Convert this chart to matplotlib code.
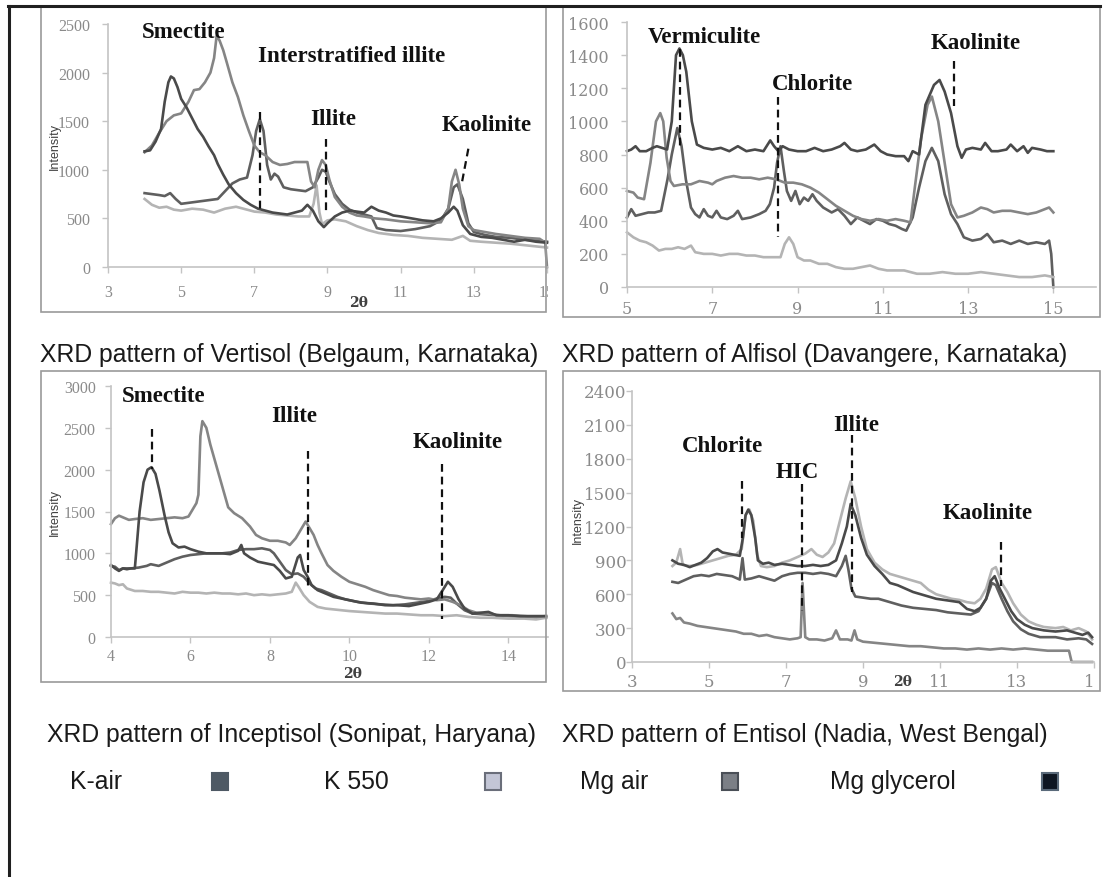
import matplotlib
matplotlib.use("Agg")
import matplotlib.pyplot as plt
from matplotlib.patches import Rectangle
from matplotlib.lines import Line2D
from matplotlib.transforms import Bbox, TransformedBbox

# ---------------- data ----------------
series_names = ["K-air", "K 550", "Mg air", "Mg glycerol"]
series_colors = ["#5f5f5f", "#b4b4b4", "#858585", "#4a4a4a"]

# Panel 1: Vertisol (Belgaum, Karnataka)
ver_kair_x = [4.0,4.2,4.4,4.55,4.7,4.85,5.0,5.2,5.4,5.6,5.8,6.0,6.2,6.4,6.6,6.8,6.95,7.05,7.15,7.25,7.35,7.45,7.55,7.65,7.8,8.0,8.2,8.4,8.6,8.75,8.85,8.95,9.05,9.2,9.4,9.6,9.8,10.0,10.2,10.35,10.6,11.0,11.4,11.8,12.1,12.3,12.45,12.55,12.7,12.85,13.0,13.3,13.6,14.0,14.4,14.8,15.0]
ver_kair_y = [760,750,740,730,760,700,650,660,670,680,690,700,780,860,900,920,1150,1400,1520,1400,1050,900,960,930,820,800,790,780,820,920,1000,980,880,750,650,590,560,540,520,400,380,370,390,420,480,600,820,850,700,450,360,330,310,300,280,270,260]
ver_k550_x = [4.0,4.2,4.4,4.6,4.8,5.0,5.3,5.6,5.9,6.2,6.5,6.7,7.0,7.3,7.6,7.9,8.2,8.5,8.62,8.7,8.78,8.85,9.0,9.2,9.5,9.8,10.1,10.4,10.8,11.2,11.6,12.0,12.4,12.7,12.9,13.2,13.6,14.0,14.5,15.0]
ver_k550_y = [700,640,610,620,590,580,600,590,560,600,620,600,570,560,540,530,520,520,650,840,560,440,480,490,470,420,380,350,330,320,300,290,280,320,270,260,250,240,220,200]
ver_mgair_x = [4.0,4.2,4.4,4.6,4.8,5.0,5.2,5.35,5.5,5.65,5.8,5.9,5.97,6.05,6.15,6.25,6.4,6.55,6.7,6.85,7.0,7.15,7.3,7.5,7.7,7.9,8.1,8.3,8.45,8.55,8.65,8.75,8.85,8.95,9.05,9.2,9.4,9.6,9.8,10.0,10.3,10.6,11.0,11.4,11.8,12.1,12.3,12.4,12.5,12.6,12.7,12.85,13.0,13.3,13.6,14.0,14.4,14.8,14.95,15.0]
ver_mgair_y = [1180,1250,1380,1500,1560,1580,1700,1820,1830,1900,2000,2150,2380,2330,2230,2100,1900,1750,1560,1400,1250,1180,1150,1080,1050,1060,1080,1080,1080,880,820,1000,1100,1050,900,720,620,560,530,520,500,490,470,460,450,460,600,880,1000,850,600,420,380,360,340,320,300,290,250,0]
ver_mggly_x = [4.0,4.15,4.3,4.45,4.55,4.65,4.72,4.8,4.9,5.0,5.15,5.3,5.45,5.6,5.75,5.9,6.0,6.15,6.3,6.5,6.7,6.9,7.1,7.3,7.5,7.7,7.9,8.1,8.3,8.45,8.6,8.75,8.9,9.0,9.2,9.4,9.6,9.8,10.0,10.2,10.4,10.6,10.8,11.0,11.3,11.6,11.9,12.1,12.3,12.45,12.55,12.7,12.9,13.2,13.5,13.8,14.1,14.4,14.7,15.0]
ver_mggly_y = [1190,1200,1290,1420,1700,1900,1960,1940,1850,1730,1640,1530,1420,1340,1240,1150,1060,950,850,760,690,640,600,580,560,550,540,560,580,640,580,470,410,450,520,560,580,570,560,620,580,560,530,520,500,480,470,500,560,620,580,430,340,310,300,280,260,280,260,250]

# Panel 2: Alfisol (Davangere, Karnataka)
alf_kair_x = [5.0,5.1,5.2,5.35,5.5,5.65,5.8,5.95,6.05,6.18,6.28,6.38,6.5,6.6,6.7,6.8,6.9,7.0,7.1,7.2,7.35,7.5,7.6,7.7,7.9,8.1,8.25,8.35,8.45,8.52,8.6,8.68,8.75,8.85,8.95,9.05,9.15,9.25,9.35,9.45,9.6,9.8,9.95,10.1,10.25,10.4,10.55,10.7,10.85,11.0,11.15,11.3,11.45,11.55,11.7,11.85,12.0,12.15,12.3,12.45,12.6,12.75,12.9,13.1,13.3,13.45,13.6,13.8,14.0,14.2,14.4,14.6,14.8,14.9,14.95,15.0]
alf_kair_y = [420,470,430,440,450,450,460,650,800,960,850,650,480,440,420,470,430,420,460,420,410,430,460,410,420,440,460,500,600,750,850,700,580,520,580,500,540,520,560,520,480,450,470,430,380,420,400,380,410,400,380,370,350,340,420,600,760,840,760,560,440,380,300,280,290,320,270,280,260,280,260,270,260,280,200,0]
alf_k550_x = [5.0,5.15,5.3,5.45,5.6,5.75,5.9,6.05,6.2,6.35,6.5,6.6,6.8,7.0,7.2,7.4,7.6,7.8,8.0,8.2,8.4,8.6,8.7,8.8,8.9,9.0,9.15,9.3,9.5,9.7,9.9,10.1,10.3,10.5,10.7,10.9,11.1,11.3,11.5,11.8,12.1,12.4,12.7,13.0,13.3,13.6,13.9,14.2,14.5,14.8,15.0]
alf_k550_y = [330,300,280,270,250,220,230,230,240,230,250,210,200,200,190,200,200,190,190,180,180,180,260,300,260,180,160,160,140,140,120,110,110,120,130,110,100,100,100,80,80,90,80,80,90,80,70,60,60,70,60]
alf_mgair_x = [5.0,5.15,5.25,5.4,5.55,5.68,5.78,5.85,5.93,6.02,6.1,6.3,6.5,6.7,6.9,7.0,7.1,7.3,7.5,7.7,7.9,8.1,8.3,8.5,8.7,8.9,9.1,9.3,9.5,9.7,9.9,10.1,10.3,10.5,10.7,10.9,11.1,11.3,11.5,11.65,11.75,11.9,12.05,12.15,12.3,12.45,12.6,12.75,12.9,13.1,13.3,13.45,13.6,13.8,14.0,14.2,14.4,14.6,14.8,14.9,15.0]
alf_mgair_y = [580,570,540,530,750,1000,1050,1000,780,640,610,620,620,640,630,620,640,660,670,660,660,650,660,650,630,630,620,600,570,530,490,460,430,410,400,410,400,410,400,390,600,900,1100,1150,1000,750,500,420,430,450,480,470,450,460,460,450,440,450,470,480,450]
alf_mggly_x = [5.0,5.1,5.2,5.3,5.45,5.6,5.7,5.82,5.94,6.05,6.15,6.23,6.31,6.39,6.52,6.64,6.8,7.0,7.2,7.4,7.6,7.8,8.0,8.2,8.36,8.45,8.55,8.65,8.8,9.0,9.2,9.4,9.6,9.8,10.0,10.1,10.25,10.4,10.6,10.8,10.95,11.1,11.3,11.5,11.6,11.7,11.85,12.0,12.2,12.33,12.45,12.6,12.75,12.85,12.95,13.1,13.3,13.4,13.55,13.7,13.9,14.0,14.15,14.3,14.4,14.5,14.7,14.85,15.0]
alf_mggly_y = [820,830,850,820,820,840,850,840,830,1000,1400,1440,1400,1300,1000,860,840,830,840,820,850,820,830,820,885,850,820,850,830,820,820,840,820,830,850,870,830,820,830,860,820,800,790,790,760,820,800,1100,1220,1250,1180,1050,850,780,830,840,830,870,820,820,830,860,820,850,810,840,830,820,820]

# Panel 3: Inceptisol (Sonipat, Haryana)
inc_kair_x = [4.0,4.1,4.2,4.3,4.5,4.7,4.9,5.0,5.2,5.4,5.6,5.8,6.0,6.2,6.4,6.6,6.8,7.0,7.2,7.4,7.6,7.8,8.0,8.1,8.25,8.4,8.55,8.7,8.85,9.0,9.15,9.3,9.5,9.7,9.9,10.2,10.5,10.8,11.1,11.4,11.7,12.0,12.2,12.4,12.55,12.7,12.9,13.1,13.4,13.7,14.0,14.4,14.7,14.95]
inc_kair_y = [850,840,800,820,820,830,850,870,850,890,930,960,980,990,1000,1000,1000,1010,1040,1050,1050,1060,1040,1000,900,800,750,760,720,640,580,560,520,480,450,420,400,390,380,390,410,430,460,480,470,400,320,280,270,260,250,240,240,230]
inc_k550_x = [4.0,4.1,4.2,4.3,4.4,4.6,4.8,5.0,5.2,5.4,5.6,5.8,6.0,6.2,6.4,6.6,6.8,7.0,7.2,7.4,7.6,7.8,8.0,8.2,8.4,8.55,8.65,8.72,8.85,9.0,9.2,9.4,9.6,9.8,10.0,10.3,10.6,10.9,11.2,11.5,11.8,12.1,12.4,12.7,13.0,13.3,13.6,14.0,14.4,14.7,14.95]
inc_k550_y = [650,640,620,630,580,550,550,540,540,530,520,540,530,530,520,530,520,520,510,520,500,510,500,510,520,540,650,600,500,420,360,340,330,320,310,300,290,280,280,270,260,260,250,260,240,230,230,220,220,210,230]
inc_mgair_x = [4.0,4.1,4.2,4.3,4.45,4.6,4.8,5.0,5.2,5.4,5.6,5.8,5.95,6.05,6.15,6.2,6.25,6.3,6.4,6.5,6.65,6.8,6.95,7.1,7.3,7.5,7.65,7.8,8.0,8.2,8.4,8.5,8.65,8.8,8.9,9.0,9.1,9.2,9.3,9.45,9.6,9.8,10.0,10.2,10.4,10.6,10.8,11.0,11.2,11.4,11.6,11.8,12.0,12.2,12.4,12.6,12.8,13.0,13.2,13.5,13.8,14.1,14.4,14.7,14.95]
inc_mgair_y = [1350,1420,1450,1430,1400,1410,1420,1400,1410,1420,1430,1420,1440,1520,1600,1700,2400,2580,2500,2300,2050,1800,1550,1480,1420,1320,1220,1180,1150,1150,1130,1100,1180,1300,1380,1300,1220,1100,1000,860,790,720,660,630,600,560,530,500,490,470,460,450,460,440,450,420,380,320,290,280,260,260,250,240,250]
inc_mggly_x = [4.0,4.1,4.2,4.3,4.4,4.5,4.6,4.65,4.72,4.82,4.92,5.02,5.12,5.22,5.35,5.45,5.55,5.7,5.85,6.0,6.2,6.4,6.6,6.8,7.0,7.2,7.28,7.35,7.5,7.7,7.9,8.1,8.25,8.4,8.55,8.7,8.76,8.85,8.95,9.05,9.2,9.4,9.6,9.8,10.0,10.3,10.6,10.9,11.2,11.5,11.8,12.0,12.2,12.35,12.48,12.6,12.75,12.9,13.1,13.3,13.5,13.7,14.0,14.3,14.6,14.95]
inc_mggly_y = [860,820,790,820,810,820,820,1100,1500,1850,2000,2030,1950,1750,1450,1250,1120,1070,1080,1050,1020,1000,1000,1000,990,1030,1100,1000,950,900,880,860,790,700,720,950,980,800,720,620,560,520,480,460,440,410,400,380,380,370,400,420,450,560,660,600,450,340,280,290,300,260,260,250,250,250]

# Panel 4: Entisol (Nadia, West Bengal)
ent_kair_x = [4.05,4.2,4.4,4.6,4.8,5.0,5.2,5.4,5.6,5.8,5.87,5.93,6.1,6.3,6.5,6.7,6.9,7.1,7.3,7.5,7.7,7.9,8.1,8.3,8.45,8.55,8.62,8.7,8.8,9.0,9.2,9.4,9.6,9.8,10.0,10.3,10.6,10.9,11.2,11.5,11.8,12.0,12.2,12.35,12.45,12.6,12.75,12.9,13.1,13.3,13.6,14.0,14.3,14.6,14.8,14.95]
ent_kair_y = [710,700,730,760,770,760,780,770,760,730,920,730,740,760,740,720,760,780,790,790,780,790,780,760,850,940,820,650,580,570,560,560,540,520,500,480,470,460,440,430,420,450,560,700,680,560,450,360,290,250,220,220,200,210,200,160]
ent_k550_x = [4.05,4.15,4.25,4.32,4.5,4.7,4.9,5.1,5.3,5.5,5.7,5.85,5.95,6.05,6.15,6.25,6.35,6.5,6.7,6.9,7.1,7.3,7.5,7.66,7.8,7.95,8.1,8.25,8.4,8.55,8.68,8.8,8.95,9.1,9.3,9.5,9.7,9.9,10.1,10.3,10.5,10.7,10.9,11.1,11.3,11.5,11.7,11.9,12.05,12.2,12.35,12.45,12.6,12.75,12.9,13.1,13.3,13.5,13.7,14.0,14.2,14.4,14.6,14.8,14.95]
ent_k550_y = [850,880,1000,860,850,860,880,900,920,940,950,1000,1300,1350,1250,950,850,840,850,880,900,930,960,1000,950,930,970,1050,1250,1450,1600,1450,1200,1000,880,820,780,760,740,720,700,640,600,580,560,550,530,520,560,650,820,840,700,620,520,420,360,330,310,300,310,280,300,270,200]
ent_mgair_x = [4.05,4.15,4.25,4.35,4.5,4.7,4.9,5.1,5.3,5.5,5.7,5.9,6.1,6.3,6.5,6.7,6.9,7.1,7.3,7.38,7.43,7.5,7.6,7.8,8.0,8.2,8.3,8.4,8.6,8.7,8.78,8.85,9.0,9.3,9.6,9.9,10.2,10.5,10.8,11.1,11.4,11.7,12.0,12.3,12.6,12.9,13.2,13.5,13.8,14.1,14.35,14.42,14.95]
ent_mgair_y = [430,380,390,350,340,320,310,300,290,280,270,250,250,230,240,220,210,200,210,220,700,220,200,200,190,210,280,200,200,190,280,200,180,170,160,150,140,140,130,120,120,110,120,110,120,110,120,110,100,100,100,0,0]
ent_mggly_x = [4.05,4.2,4.35,4.5,4.65,4.8,4.95,5.1,5.22,5.35,5.5,5.65,5.8,5.88,5.95,6.02,6.1,6.2,6.27,6.4,6.55,6.7,6.9,7.1,7.3,7.5,7.7,7.9,8.1,8.3,8.45,8.58,8.68,8.8,8.95,9.1,9.3,9.5,9.7,9.9,10.1,10.3,10.5,10.7,10.9,11.1,11.3,11.5,11.7,11.9,12.05,12.2,12.32,12.42,12.55,12.7,12.85,13.0,13.2,13.4,13.7,14.0,14.3,14.5,14.7,14.85,14.95]
ent_mggly_y = [900,870,860,840,860,880,920,980,1000,970,960,950,940,1100,1300,1350,1300,1100,900,870,880,860,870,860,850,850,860,850,860,900,1050,1200,1400,1300,1100,950,850,780,700,680,650,620,600,580,560,550,540,530,470,450,480,560,720,760,650,550,450,380,330,300,280,270,280,260,240,260,220]

panel_titles = ["XRD pattern of Vertisol (Belgaum, Karnataka)",
                "XRD pattern of Alfisol (Davangere, Karnataka)",
                "XRD pattern of Inceptisol (Sonipat, Haryana)",
                "XRD pattern of Entisol (Nadia, West Bengal)"]

ver_yticks = [0, 500, 1000, 1500, 2000, 2500]
ver_xticks = [3, 5, 7, 9, 11, 13, 15]
alf_yticks = [0, 200, 400, 600, 800, 1000, 1200, 1400, 1600]
alf_xticks = [5, 7, 9, 11, 13, 15]
inc_yticks = [0, 500, 1000, 1500, 2000, 2500, 3000]
inc_xticks = [4, 6, 8, 10, 12, 14]
ent_yticks = [0, 300, 600, 900, 1200, 1500, 1800, 2100, 2400]
ent_xticks = [3, 5, 7, 9, 11, 13, 15]

# mineral labels: (text, x, y) in data units
ver_labels = [("Smectite", 3.93, 2418), ("Interstratified illite", 7.10, 2171),
              ("Illite", 8.52, 1523), ("Kaolinite", 12.13, 1471)]
alf_labels = [("Vermiculite", 5.49, 1510), ("Chlorite", 8.40, 1226), ("Kaolinite", 12.13, 1479)]
inc_labels = [("Smectite", 4.28, 2883), ("Illite", 8.03, 2643), ("Kaolinite", 11.6, 2332)]
ent_labels = [("Chlorite", 4.30, 1917), ("HIC", 6.73, 1686), ("Illite", 8.23, 2103), ("Kaolinite", 11.06, 1322)]

# dashed peak markers: (x_top, y_top, x_bottom, y_bottom)
ver_marks = [(7.15, 1590, 7.15, 566), (8.97, 1320, 8.97, 530), (12.85, 1217, 12.66, 840)]
alf_marks = [(6.24, 1437, 6.24, 853), (8.55, 1145, 8.55, 300), (12.67, 1367, 12.67, 1095)]
inc_marks = [(5.02, 2488, 5.02, 2009), (8.96, 2229, 8.96, 574), (12.34, 2069, 12.34, 215)]
ent_marks = [(5.85, 1600, 5.85, 1100), (7.41, 1580, 7.41, 450), (8.72, 2008, 8.72, 618), (12.58, 1062, 12.58, 677)]

legend_fill = ["#4e5964", "#c3c6d6", "#7b7f86", "#0e1622"]
legend_edge = ["#4e5964", "#6a6e7a", "#4a4f57", "#5a6a7a"]

# ---------------- layout ----------------
W, H = 1103, 878
fig = plt.figure(figsize=(W / 100, H / 100), dpi=100)
fig.patch.set_facecolor("white")


def fx(px):
    return px / W


def fy(py):
    return 1 - py / H


def add_box(l, t, r, b):
    fig.add_artist(Rectangle((fx(l), fy(b)), (r - l) / W, (b - t) / H, transform=fig.transFigure,
                             fill=False, edgecolor="#9a9a9a", lw=1.2))


def make_panel(x0, x1, ytop, ybot, xlim, ylim, xticks, yticks, tick_font, tick_size, ypad, xpad, clip_right):
    ax = fig.add_axes([fx(x0), fy(ybot), (x1 - x0) / W, (ybot - ytop) / H])
    ax.set_xlim(*xlim)
    ax.set_ylim(*ylim)
    ax.patch.set_alpha(0)
    for s in ["top", "right"]:
        ax.spines[s].set_visible(False)
    for s in ["left", "bottom"]:
        ax.spines[s].set_color("#c4c4c4")
        ax.spines[s].set_linewidth(1.2)
    ax.set_xticks(xticks)
    ax.set_yticks(yticks)
    ax.set_xticklabels([str(v) for v in xticks])
    ax.set_yticklabels([str(v) for v in yticks])
    ax.tick_params(axis="both", colors="#c4c4c4", labelcolor="#8a8a8a", length=4, width=1,
                   labelsize=tick_size, labelfontfamily=tick_font)
    ax.tick_params(axis="y", pad=ypad)
    ax.tick_params(axis="x", pad=xpad)
    clip = TransformedBbox(Bbox.from_extents(0, 0, fx(clip_right), 1), fig.transFigure)
    for lab in ax.get_xticklabels():
        lab.set_clip_box(clip)
        lab.set_clip_on(True)
    return ax


def draw_series(ax, xs, ys):
    for (x, y), c in zip(zip(xs, ys), series_colors):
        ax.plot(x, y, color=c, lw=1.9, solid_joinstyle="round", clip_on=False)


def draw_labels(ax, labels, marks):
    for t, x, y in labels:
        ax.text(x, y, t, ha="left", va="center", fontsize=16.5, fontweight="bold",
                family="Liberation Serif", color="#111111", clip_on=False)
    for xa, ya, xb, yb in marks:
        ax.plot([xa, xb], [ya, yb], color="#111111", lw=1.6, ls=(0, (3.5, 2.2)), clip_on=False)


# outer frame
fig.add_artist(Line2D([fx(8), fx(1100)], [fy(7), fy(7)], color="#202020", lw=2.2, transform=fig.transFigure))
fig.add_artist(Line2D([fx(9), fx(9)], [fy(7), fy(878)], color="#202020", lw=2.2, transform=fig.transFigure))

# panel boxes
add_box(41, 8, 546, 313)
add_box(563, 8, 1100, 318)
add_box(41, 372, 546, 683)
add_box(563, 372, 1100, 692)

# Panel 1
ax1 = make_panel(108, 547, 25, 268, (3, 15), (0, 2500), ver_xticks, ver_yticks,
                 "Liberation Serif", 11.5, 9, 8, 548)
draw_series(ax1, [ver_kair_x, ver_k550_x, ver_mgair_x, ver_mggly_x],
            [ver_kair_y, ver_k550_y, ver_mgair_y, ver_mggly_y])
draw_labels(ax1, ver_labels, ver_marks)
fig.text(fx(55), fy(147), "Intensity", rotation=90, ha="center", va="center", fontsize=9,
         family="Liberation Sans", color="#404040")
fig.text(fx(358), fy(303), "2θ", ha="center", va="center", fontsize=10, fontweight="bold",
         family="DejaVu Serif", color="#404040")

# Panel 2
ax2 = make_panel(627, 1096, 23, 288, (5, 16), (0, 1600), alf_xticks, alf_yticks,
                 "DejaVu Serif", 11.5, 9, 5, 1099)
draw_series(ax2, [alf_kair_x, alf_k550_x, alf_mgair_x, alf_mggly_x],
            [alf_kair_y, alf_k550_y, alf_mgair_y, alf_mggly_y])
draw_labels(ax2, alf_labels, alf_marks)

# Panel 3
ax3 = make_panel(111, 548, 387, 638, (4, 15), (0, 3000), inc_xticks, inc_yticks,
                 "Liberation Serif", 11.5, 7, 4, 548)
draw_series(ax3, [inc_kair_x, inc_k550_x, inc_mgair_x, inc_mggly_x],
            [inc_kair_y, inc_k550_y, inc_mgair_y, inc_mggly_y])
draw_labels(ax3, inc_labels, inc_marks)
fig.text(fx(55), fy(513), "Intensity", rotation=90, ha="center", va="center", fontsize=9,
         family="Liberation Sans", color="#404040")
fig.text(fx(352), fy(674), "2θ", ha="center", va="center", fontsize=10, fontweight="bold",
         family="DejaVu Serif", color="#404040")

# Panel 4
ax4 = make_panel(632, 1094, 392, 663, (3, 15), (0, 2400), ent_xticks, ent_yticks,
                 "DejaVu Serif", 12, 0, 4, 1094)
draw_series(ax4, [ent_kair_x, ent_k550_x, ent_mgair_x, ent_mggly_x],
            [ent_kair_y, ent_k550_y, ent_mgair_y, ent_mggly_y])
draw_labels(ax4, ent_labels, ent_marks)
fig.text(fx(578), fy(521), "Intensity", rotation=90, ha="center", va="center", fontsize=9,
         family="Liberation Sans", color="#404040")
fig.text(fx(902), fy(682), "2θ", ha="center", va="center", fontsize=10, fontweight="bold",
         family="DejaVu Serif", color="#404040")

# captions
cap_pos = [(40, 355), (562, 355), (47, 735), (562, 735)]
for (px, py), t in zip(cap_pos, panel_titles):
    fig.text(fx(px), fy(py), t, ha="left", va="center", fontsize=17.8, family="Liberation Sans",
             color="#1a1a1a")

# legend
leg_text_x = [70, 324, 580, 830]
leg_box_x = [220, 493, 730, 1050]
leg_y = 782
for name, tx, bx, fc, ec in zip(series_names, leg_text_x, leg_box_x, legend_fill, legend_edge):
    fig.text(fx(tx), fy(leg_y), name, ha="left", va="center", fontsize=17.8, family="Liberation Sans",
             color="#1a1a1a")
    fig.add_artist(Rectangle((fx(bx - 8), fy(leg_y + 8.5)), 16 / W, 17 / H, transform=fig.transFigure,
                             facecolor=fc, edgecolor=ec, lw=1.5))

fig.savefig("out.png", dpi=100, facecolor="white")
